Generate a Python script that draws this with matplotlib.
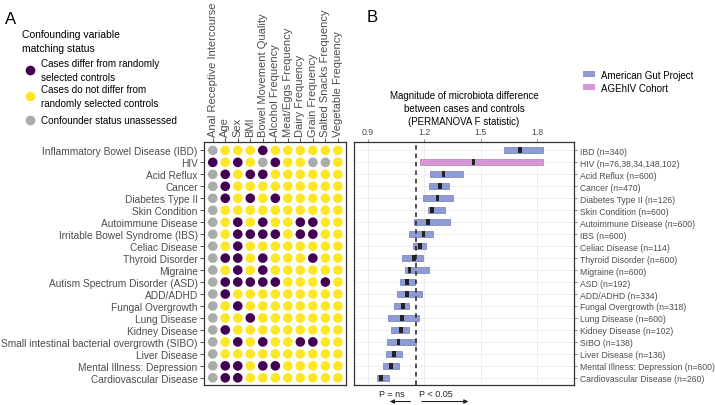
import matplotlib
matplotlib.use("Agg")
import matplotlib.pyplot as plt
from matplotlib.patches import Patch
from matplotlib.lines import Line2D

plt.rcParams['font.family'] = ['Liberation Sans', 'DejaVu Sans']

# Panel A: confounder matching status (P = differ, Y = no difference, G = unassessed)
diseases = ['Inflammatory Bowel Disease (IBD)', 'HIV', 'Acid Reflux', 'Cancer',
            'Diabetes Type II', 'Skin Condition', 'Autoimmune Disease',
            'Irritable Bowel Syndrome (IBS)', 'Celiac Disease', 'Thyroid Disorder',
            'Migraine', 'Autism Spectrum Disorder (ASD)', 'ADD/ADHD',
            'Fungal Overgrowth', 'Lung Disease', 'Kidney Disease',
            'Small intestinal bacterial overgrowth (SIBO)', 'Liver Disease',
            'Mental Illness: Depression', 'Cardiovascular Disease']
confounders = ['Anal Receptive Intercourse', 'Age', 'Sex', 'BMI',
               'Bowel Movement Quality', 'Alcohol Frequency', 'Meat/Eggs Frequency',
               'Dairy Frequency', 'Grain Frequency', 'Salted Snacks Frequency',
               'Vegetable Frequency']
status = ['GYYYPYYYYYY',
          'PYPYGPYYGGY',
          'GPYPPYYYYYY',
          'GPYYYYYYYYY',
          'GPYPYPYYYYY',
          'GYYYYYYYYYY',
          'GYPYPYYPPYY',
          'GYPPPPYPPYY',
          'GYPYYYYYYYY',
          'GPPYPYYYPYY',
          'GYPYPYYYYYY',
          'GPPPPPYYYPY',
          'GPYYYYYYYYY',
          'GYPYYYYYYYY',
          'GYYPYYYYYYY',
          'GPYYYYYYYYY',
          'GYPYPYYPPYY',
          'GYYYYYYYYYY',
          'GPPYPPYYYYY',
          'GPPYYYYYYYY']

# Panel B: PERMANOVA F statistic ranges
labels_b = ['IBD (n=340)', 'HIV (n=76,38,34,148,102)', 'Acid Reflux (n=600)',
            'Cancer (n=470)', 'Diabetes Type II (n=126)', 'Skin Condition (n=600)',
            'Autoimmune Disease (n=600)', 'IBS (n=600)', 'Celiac Disease (n=114)',
            'Thyroid Disorder (n=600)', 'Migraine (n=600)', 'ASD (n=192)',
            'ADD/ADHD (n=334)', 'Fungal Overgrowth (n=318)', 'Lung Disease (n=600)',
            'Kidney Disease (n=102)', 'SIBO (n=138)', 'Liver Disease (n=136)',
            'Mental Illness: Depression (n=600)', 'Cardiovascular Disease (n=260)']
f_lo = [1.623, 1.179, 1.232, 1.228, 1.193, 1.221, 1.147, 1.122, 1.140, 1.082,
        1.096, 1.073, 1.055, 1.038, 1.008, 1.022, 1.002, 0.997, 0.981, 0.949]
f_hi = [1.828, 1.828, 1.405, 1.329, 1.352, 1.309, 1.338, 1.249, 1.211, 1.193,
        1.223, 1.152, 1.186, 1.122, 1.175, 1.119, 1.154, 1.082, 1.069, 1.013]
f_med = [1.708, 1.461, 1.302, 1.285, 1.271, 1.241, 1.219, 1.196, 1.179, 1.144,
         1.122, 1.108, 1.108, 1.087, 1.084, 1.076, 1.064, 1.041, 1.024, 0.971]
cohort = ['AGP', 'AGEhIV'] + ['AGP'] * 18
p_threshold = 1.155

status_colors = {'P': '#440154', 'Y': '#FDE725', 'G': '#ABABAB'}
cohort_colors = {'AGP': '#8E9BD4', 'AGEhIV': '#D797D6'}
cohort_edges = {'AGP': '#6F7DB8', 'AGEhIV': '#B777B6'}
txt = '#4D4D4D'

W, H = 715, 406
fig = plt.figure(figsize=(W / 100, H / 100), dpi=100)


def px_axes(x0, y0, x1, y1):
    return fig.add_axes([x0 / W, 1 - y1 / H, (x1 - x0) / W, (y1 - y0) / H])


# ---- panel A ----
axA = px_axes(204, 143, 346, 386)
xs, ys, cs = [], [], []
for i, row in enumerate(status):
    for j, s in enumerate(row):
        xs.append(j)
        ys.append(i)
        cs.append(status_colors[s])
axA.scatter(xs, ys, s=48, c=cs, linewidths=0, zorder=3)
axA.set_xlim(-0.7, 10.65)
axA.set_ylim(19.6, -0.7)
axA.set_yticks(range(len(diseases)))
axA.set_yticklabels(diseases, fontsize=7.3, color=txt)
axA.xaxis.tick_top()
axA.set_xticks(range(len(confounders)))
axA.set_xticklabels(confounders, rotation=90, fontsize=8, color=txt)
axA.tick_params(length=3, width=0.6, color='#333333', pad=1.5)
for sp in axA.spines.values():
    sp.set_color('#333333')
    sp.set_linewidth(0.9)

fig.text(5 / W, 1 - 20 / H, 'A', fontsize=12, va='center')
fig.text(22 / W, 1 - 30 / H, 'Confounding variable\nmatching status',
         fontsize=7.5, va='top', linespacing=1.5)
leg_entries = [('P', 'Cases differ from randomly\nselected controls', 71),
               ('Y', 'Cases do not differ from\nrandomly selected controls', 97),
               ('G', 'Confounder status unassessed', 121)]
for key, label, yy in leg_entries:
    fig.add_artist(Line2D([30 / W], [1 - yy / H], marker='o', ms=7, mew=0,
                          color=status_colors[key], transform=fig.transFigure))
    fig.text(41 / W, 1 - yy / H, label, fontsize=7.1, va='center', linespacing=1.4)

# ---- panel B ----
axB = px_axes(354, 143, 574, 386)
rows = list(range(len(labels_b)))
axB.barh(rows, [h - l for l, h in zip(f_lo, f_hi)], left=f_lo, height=0.52,
         color=[cohort_colors[c] for c in cohort],
         edgecolor=[cohort_edges[c] for c in cohort], linewidth=0.5, zorder=3)
axB.barh(rows, 0.02, left=[m - 0.01 for m in f_med], height=0.52,
         color='#222222', linewidth=0, zorder=4)
axB.axvline(p_threshold, ls=(0, (3, 2.5)), color='#222222', lw=1.1, zorder=5)
axB.set_xlim(0.828, 1.994)
axB.set_ylim(19.6, -0.7)
axB.xaxis.tick_top()
axB.set_xticks([0.9, 1.2, 1.5, 1.8])
axB.set_xticklabels(['0.9', '1.2', '1.5', '1.8'], fontsize=6.3, color=txt)
axB.yaxis.tick_right()
axB.set_yticks(rows)
axB.set_yticklabels(labels_b, fontsize=6.2, color=txt)
axB.tick_params(length=2.5, width=0.5, color='#555555', pad=1.5)
axB.grid(True, color='#EBEBEB', lw=0.6, zorder=0)
axB.set_axisbelow(True)
for sp in axB.spines.values():
    sp.set_color('#333333')
    sp.set_linewidth(0.9)

fig.text(464 / W, 1 - 109 / H,
         'Magnitude of microbiota difference\nbetween cases and controls\n(PERMANOVA F statistic)',
         fontsize=7, ha='center', va='center', linespacing=1.35)
fig.text(367 / W, 1 - 18 / H, 'B', fontsize=12, va='center')

handles = [Patch(facecolor=cohort_colors['AGP'], label='American Gut Project'),
           Patch(facecolor=cohort_colors['AGEhIV'], label='AGEhIV Cohort')]
fig.legend(handles=handles, loc='upper left', bbox_to_anchor=(574 / W, 1 - 62 / H),
           frameon=False, fontsize=7, handlelength=1.3, handleheight=0.6,
           handletextpad=0.6, labelspacing=0.3)

# significance arrows below panel B
axB.text(1.03, -0.035, 'P = ns', transform=axB.get_xaxis_transform(),
         fontsize=6.5, ha='center', va='center', color='#222222')
axB.text(1.26, -0.035, 'P < 0.05', transform=axB.get_xaxis_transform(),
         fontsize=6.5, ha='center', va='center', color='#222222')
axB.annotate('', xy=(1.003, -0.068), xytext=(1.142, -0.068),
             xycoords=('data', 'axes fraction'), textcoords=('data', 'axes fraction'),
             arrowprops=dict(arrowstyle='-|>', lw=0.8, color='#222222',
                             mutation_scale=6))
axB.annotate('', xy=(1.449, -0.068), xytext=(1.173, -0.068),
             xycoords=('data', 'axes fraction'), textcoords=('data', 'axes fraction'),
             arrowprops=dict(arrowstyle='-|>', lw=0.8, color='#222222',
                             mutation_scale=6))

fig.savefig('out.png', dpi=100)
